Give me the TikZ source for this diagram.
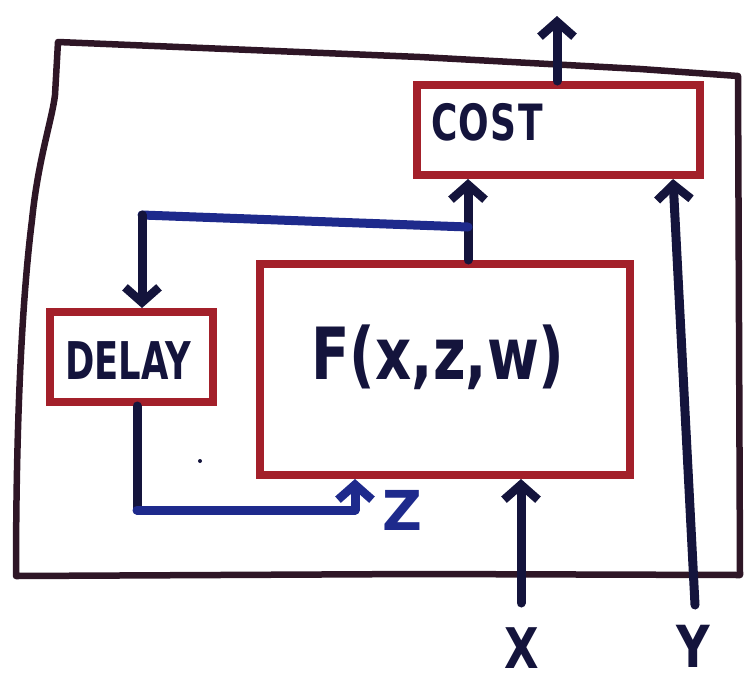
\documentclass[tikz,border=0pt]{standalone}
\usepackage{fontspec}
\setmainfont{DejaVu Sans}
\usetikzlibrary{arrows.meta}
\definecolor{boxred}{HTML}{A3202A}
\definecolor{ink}{HTML}{14143C}
\definecolor{pen}{HTML}{1E2A8C}
\definecolor{framec}{HTML}{2E1626}
\begin{document}
\begin{tikzpicture}[x=1pt,y=-1pt,
  box/.style={draw=boxred, line width=8pt, inner sep=0pt},
  wire/.style={line width=9pt, line cap=round, line join=round},
  arr/.style={wire, -{Straight Barb[length=15pt,width=34pt,line width=8.5pt]}},
  lbl/.style={inner sep=0pt, text=ink}]
\useasboundingbox (0,0) rectangle (746,686);
% outer frame
\draw[framec, line width=6.5pt, line join=round]
  (58,42) -- (420,57) -- (640,69) -- (738,76) -- (740,575)
  -- (420,574) -- (16,576)
  .. controls (16,420) and (22,300) .. (32,220)
  .. controls (38,160) and (52,120) .. (55,95) -- cycle;
% boxes
\node[box, minimum width=283pt, minimum height=90pt] (cost) at (558.5,130) {};
\node[box, minimum width=370pt, minimum height=211pt] (F) at (445,369.5) {};
\node[box, minimum width=163pt, minimum height=90pt] (delay) at (131.5,357) {};
% labels
\node[lbl, font=\bfseries\fontsize{50}{50}\selectfont] (costtxt) at (487,122) {\scalebox{0.72}[1]{C\kern2pt O\kern2pt S\kern2pt T}};
\node[lbl, font=\bfseries\fontsize{52}{52}\selectfont] (delaytxt) at (128,361) {\scalebox{0.68}[1]{DELAY}};
\node[lbl, font=\bfseries\fontsize{72}{72}\selectfont] (ftxt) at (438,357) {\scalebox{0.78}[1]{F(x,z,w)}};
\node[lbl, font=\bfseries\fontsize{56}{56}\selectfont] (xtxt) at (522,648) {\scalebox{0.8}[1]{X}};
\node[lbl, font=\bfseries\fontsize{58}{58}\selectfont] (ytxt) at (693,646) {\scalebox{0.8}[1]{Y}};
\node[lbl, text=pen, font=\bfseries\fontsize{55}{55}\selectfont] (ztxt) at (402,510) {Z};
% connectors
\coordinate (out) at (557,16);
\draw[arr, ink] (cost.north -| out) -- (out);
\coordinate (j) at (468,227);
\draw[arr, ink] (F.north -| j) -- (cost.south -| j);
\coordinate (tl) at (142,215);
\draw[wire, pen] (j) -- (tl);
\draw[arr, ink] (tl) -- (delay.north -| tl);
\coordinate (bl) at (137,510);
\draw[wire, ink] (delay.south -| bl) -- (bl);
\coordinate (zc) at (355,510);
\draw[wire, pen] (bl) -- (zc);
\draw[arr, pen] (zc) -- (F.south -| zc);
\coordinate (xin) at (521,603);
\draw[arr, ink] (xin) -- (F.south -| xin);
\coordinate (yin) at (695,605);
\coordinate (ytop) at (673,0);
\draw[arr, ink] (yin) -- (cost.south -| ytop);
% stray dot
\fill[ink] (200,461) circle (2pt);
\end{tikzpicture}
\end{document}
